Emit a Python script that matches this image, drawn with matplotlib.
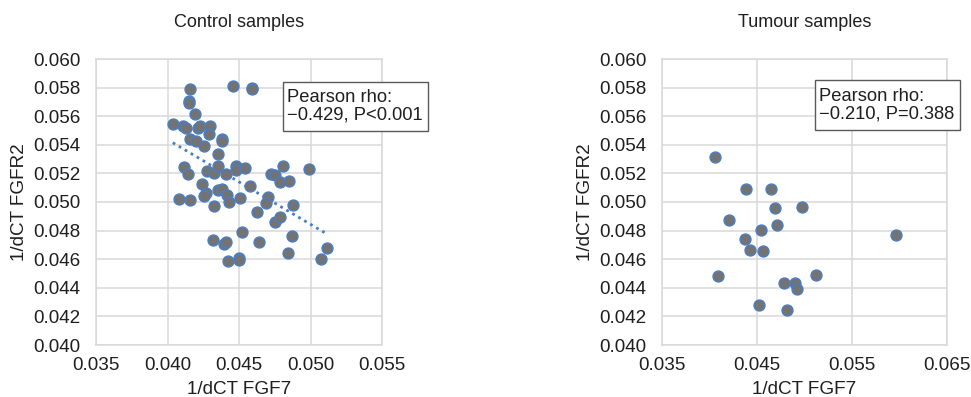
import numpy as np
import matplotlib
matplotlib.use("Agg")
import matplotlib.pyplot as plt

plt.rcParams['font.family'] = ['Liberation Sans', 'DejaVu Sans']

# ---- data ----
control_fgf7 = [0.04159, 0.04456, 0.04594, 0.04594, 0.04147, 0.04147, 0.04189, 0.04037,
                0.04105, 0.04126, 0.04213, 0.04229, 0.04294, 0.04292, 0.04159, 0.04201,
                0.04257, 0.04379, 0.04379, 0.04355, 0.04117, 0.04140, 0.04276, 0.04325,
                0.04355, 0.04407, 0.04477, 0.04477, 0.04540, 0.04238, 0.04271, 0.04257,
                0.04351, 0.04381, 0.04416, 0.04428, 0.04079, 0.04159, 0.04322, 0.04509,
                0.04579, 0.04626, 0.04701, 0.04692, 0.04724, 0.04755, 0.04790, 0.04808,
                0.04850, 0.04879, 0.04991, 0.04755, 0.04785, 0.04869, 0.04841, 0.04523,
                0.04643, 0.04318, 0.04393, 0.04411, 0.04423, 0.04500, 0.04500, 0.05075,
                0.05117]
control_fgfr2 = [0.0579, 0.0581, 0.0580, 0.0579, 0.05704, 0.0569, 0.05613, 0.05545,
                 0.05533, 0.05515, 0.05515, 0.0553, 0.0553, 0.05477, 0.05442, 0.05424,
                 0.05393, 0.05444, 0.05428, 0.05337, 0.05244, 0.05197, 0.05216, 0.05204,
                 0.05253, 0.05197, 0.05253, 0.05225, 0.05237, 0.05127, 0.05062, 0.05043,
                 0.05085, 0.05094, 0.05048, 0.05001, 0.05022, 0.05015, 0.04975, 0.05029,
                 0.05115, 0.04933, 0.05038, 0.04992, 0.05195, 0.05190, 0.05143, 0.05255,
                 0.05150, 0.04982, 0.05230, 0.04863, 0.04898, 0.04763, 0.04646, 0.04789,
                 0.04719, 0.04735, 0.04707, 0.04721, 0.04590, 0.04607, 0.04595, 0.04600,
                 0.04681]

tumour_fgf7 = [0.04054, 0.04384, 0.04651, 0.04690, 0.04974, 0.04202, 0.04539, 0.04714,
               0.04374, 0.04423, 0.04567, 0.04090, 0.05121, 0.04788, 0.04897, 0.04925,
               0.04518, 0.04812, 0.05967]
tumour_fgfr2 = [0.05318, 0.05092, 0.05092, 0.04957, 0.04966, 0.04875, 0.04805, 0.04838,
                0.04744, 0.04665, 0.04656, 0.04483, 0.04490, 0.04432, 0.04432, 0.04394,
                0.04278, 0.04245, 0.04772]

titles = ["Control samples", "Tumour samples"]
annotations = ["Pearson rho:\n\u22120.429, P<0.001", "Pearson rho:\n\u22120.210, P=0.388"]
xlabel = "1/dCT FGF7"
ylabel = "1/dCT FGFR2"
y_ticks = [0.040, 0.042, 0.044, 0.046, 0.048, 0.050, 0.052, 0.054, 0.056, 0.058, 0.060]
x_ticks_control = [0.035, 0.040, 0.045, 0.050, 0.055]
x_ticks_tumour = [0.035, 0.045, 0.055, 0.065]

# ---- styling ----
W, H = 971, 397
fig = plt.figure(figsize=(W / 100, H / 100), dpi=100)
text_color = '#1f1f1f'
grid_color = '#d9d9d9'
fill = '#737373'
edge = '#4a7ec4'

def px_axes(x0, x1, y0, y1):
    return fig.add_axes([x0 / W, 1 - y1 / H, (x1 - x0) / W, (y1 - y0) / H])

ax1 = px_axes(96, 382, 59, 345)
ax2 = px_axes(662, 947, 59, 345)

panels = [
    (ax1, control_fgf7, control_fgfr2, x_ticks_control, titles[0], annotations[0], (283, 428, 82, 131)),
    (ax2, tumour_fgf7, tumour_fgfr2, x_ticks_tumour, titles[1], annotations[1], (815, 960, 80, 130)),
]

for ax, xs, ys, xt, title, ann, box in panels:
    ax.set_xlim(xt[0], xt[-1])
    ax.set_ylim(y_ticks[0], y_ticks[-1])
    ax.set_xticks(xt)
    ax.set_yticks(y_ticks)
    ax.set_xticklabels([f"{v:.3f}" for v in xt])
    ax.set_yticklabels([f"{v:.3f}" for v in y_ticks])
    ax.grid(True, color=grid_color, linewidth=1.1)
    ax.set_axisbelow(True)
    for s in ax.spines.values():
        s.set_color(grid_color)
        s.set_linewidth(1.1)
    ax.tick_params(length=0, labelsize=13.6, colors=text_color)
    ax.tick_params(axis='x', pad=9)
    ax.tick_params(axis='y', pad=11)
    ax.scatter(xs, ys, s=62, c=fill, edgecolors=edge, linewidths=1.0, zorder=3, clip_on=False)
    ax.set_xlabel(xlabel, fontsize=13.6, color=text_color, labelpad=5)
    ax.set_ylabel(ylabel, fontsize=13.6, color=text_color, labelpad=4)
    ax.set_title(title, fontsize=13, color=text_color, pad=23)
    # annotation box in pixel coordinates
    bx0, bx1, by0, by1 = box
    fig.patches.append(matplotlib.patches.Rectangle(
        (bx0 / W, 1 - by1 / H), (bx1 - bx0) / W, (by1 - by0) / H,
        transform=fig.transFigure, facecolor='white', edgecolor='#595959',
        linewidth=1.0, zorder=5))
    fig.text((bx0 + 4) / W, 1 - (by0 + by1) / 2 / H, ann, fontsize=13.2, color=text_color,
             ha='left', va='center', linespacing=1.05, zorder=6)

# linear trendline for the control samples (computed from the data)
cx = np.array(control_fgf7)
cy = np.array(control_fgfr2)
slope, intercept = np.polyfit(cx, cy, 1)
tx = np.array([cx.min(), cx.max()])
ax1.plot(tx, slope * tx + intercept, linestyle=(0, (1, 1.5)), color=edge, linewidth=2.0, zorder=2)

fig.savefig("out.png", dpi=100)
